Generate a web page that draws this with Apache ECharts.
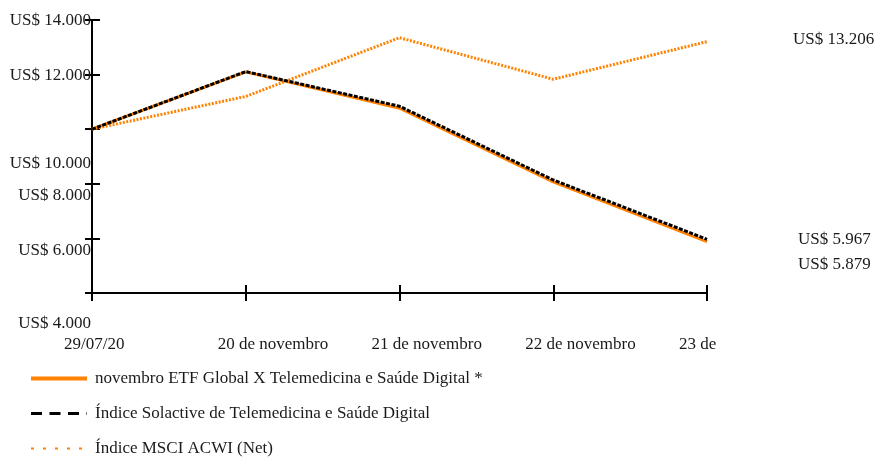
<!DOCTYPE html>
<html>
<head>
<meta charset="utf-8">
<script src="https://cdn.jsdelivr.net/npm/echarts@6/dist/echarts.min.js"></script>
<style>
  html, body { margin: 0; padding: 0; background: #fff; }
  #chart { width: 878px; height: 459px; }
</style>
</head>
<body>
<div id="chart"></div>
<script>
const categories = ['29/07/20', '20 de novembro', '21 de novembro', '22 de novembro', '23 de']
const etfValues = [10000, 12100, 10770, 8070, 5879]
const solactiveValues = [10000, 12110, 10840, 8140, 5967]
const msciValues = [10000, 11200, 13350, 11830, 13206]
const yTicks = [4000, 6000, 8000, 10000, 12000, 14000]
const seriesNames = [
  'novembro ETF Global X Telemedicina e Saúde Digital *',
  'Índice Solactive de Telemedicina e Saúde Digital',
  'Índice MSCI ACWI (Net)',
]

const ORANGE = '#FF8200'
const TEXT = '#1a1a1a'
const FONT = '"Liberation Serif", "DejaVu Serif", serif'

// vertical nudge of each y label relative to its tick (as in the source)
const labelShift = { 4000: 31, 6000: 12, 8000: 12, 10000: 34, 12000: 1, 14000: 1 }

function fmt(v) {
  return 'US$ ' + String(Math.round(v)).replace(/\B(?=(\d{3})+(?!\d))/g, '.')
}

const rich = {}
yTicks.forEach((t) => {
  const d = labelShift[t]
  rich['s' + t] = {
    fontFamily: FONT,
    fontSize: 17,
    color: TEXT,
    padding: d >= 0 ? [2 * d, 0, 0, 0] : [0, 0, -2 * d, 0],
  }
})

const chart = echarts.init(document.getElementById('chart'))

const yBase = { type: 'value', min: yTicks[0], max: yTicks[yTicks.length - 1], interval: 2000, splitLine: { show: false } }
const xBase = { type: 'category', data: categories, boundaryGap: false, position: 'bottom' }

function endLabel(offset) {
  return {
    show: true,
    distance: 0,
    offset,
    fontFamily: FONT,
    fontSize: 17,
    color: TEXT,
    formatter: (p) => fmt(p.value),
  }
}

chart.setOption({
  animation: false,
  backgroundColor: '#fff',
  grid: { left: 92, right: 171, top: 20, bottom: 166, containLabel: false },
  xAxis: [
    {
      ...xBase,
      axisLine: { lineStyle: { color: '#000', width: 2 } },
      axisTick: { show: true, length: 8, lineStyle: { color: '#000', width: 2 } },
      axisLabel: {
        interval: 0,
        align: 'left',
        margin: 43,
        padding: [0, 0, 0, -28],
        fontFamily: FONT,
        fontSize: 17,
        color: TEXT,
      },
    },
    {
      ...xBase,
      axisLine: { show: false },
      axisTick: { show: true, inside: true, length: 8, lineStyle: { color: '#000', width: 2 } },
      axisLabel: { show: false },
    },
  ],
  yAxis: [
    {
      ...yBase,
      position: 'left',
      axisLine: { show: true, lineStyle: { color: '#000', width: 2 } },
      axisTick: { show: true, length: 7, lineStyle: { color: '#000', width: 2 } },
      axisLabel: {
        margin: 1,
        formatter: (v) => '{s' + v + '|' + fmt(v) + '}',
        rich,
      },
    },
    {
      ...yBase,
      position: 'left',
      axisLine: { show: false },
      axisTick: { show: true, inside: true, length: 8, lineStyle: { color: '#000', width: 2 } },
      axisLabel: { show: false },
    },
  ],
  legend: {
    orient: 'vertical',
    left: 24,
    top: 365,
    height: 100,
    itemWidth: 56,
    itemHeight: 17,
    itemGap: 18,
    itemStyle: { opacity: 0 },
    textStyle: { fontFamily: FONT, fontSize: 17, color: TEXT, lineHeight: 17, padding: [0, 0, 0, 3] },
    data: [
      { name: seriesNames[0], lineStyle: { width: 4 } },
      { name: seriesNames[1], lineStyle: { width: 3, type: [11, 7.5] } },
      { name: seriesNames[2], lineStyle: { width: 2, type: [3, 9] } },
    ],
  },
  series: [
    {
      name: seriesNames[2],
      type: 'line',
      data: msciValues,
      symbol: 'none',
      lineStyle: { color: ORANGE, width: 3, type: [2, 1.5] },
      itemStyle: { color: ORANGE },
      endLabel: endLabel([86, -2]),
      z: 2,
    },
    {
      name: seriesNames[0],
      type: 'line',
      data: etfValues,
      symbol: 'none',
      lineStyle: { color: ORANGE, width: 3 },
      itemStyle: { color: ORANGE },
      endLabel: endLabel([91, 23]),
      z: 3,
    },
    {
      name: seriesNames[1],
      type: 'line',
      data: solactiveValues,
      symbol: 'none',
      lineStyle: { color: '#000', width: 3, type: [4, 1.5] },
      itemStyle: { color: '#000' },
      endLabel: endLabel([91, 0]),
      z: 4,
    },
  ],
})
</script>
</body>
</html>
